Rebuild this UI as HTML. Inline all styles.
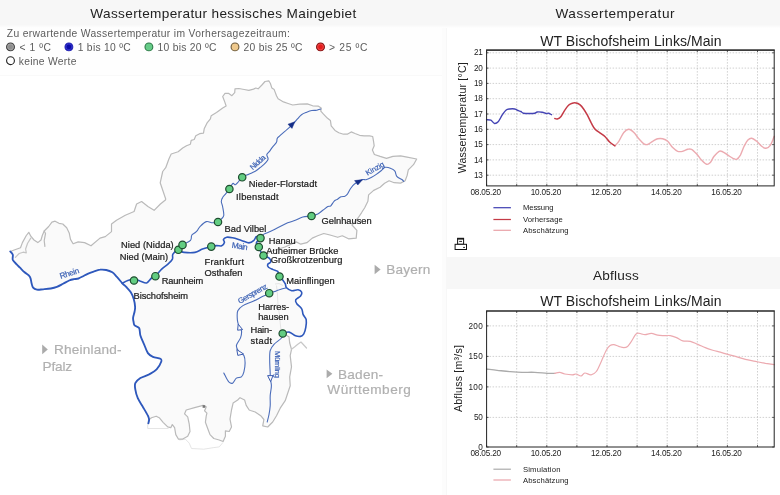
<!DOCTYPE html>
<html lang="de">
<head>
<meta charset="utf-8">
<title>Wassertemperatur hessisches Maingebiet</title>
<style>
html,body{margin:0;padding:0;background:#fff;}
body{width:780px;height:495px;overflow:hidden;position:relative;font-family:"Liberation Sans",sans-serif;}
#titlebar{position:absolute;left:0;top:0;width:780px;height:28px;background:linear-gradient(to bottom,#f7f7f7 0,#f7f7f7 24.5px,#fcfcfc 27px,#fff 28px);}
#legendbox{position:absolute;left:0;top:28px;width:442px;height:48px;background:#fefefe;border-bottom:1px solid #f9f9f9;box-sizing:border-box;}
#gutter{position:absolute;left:442px;top:28px;width:5px;height:467px;background:#fcfcfc;border-right:1px solid #f7f7f7;box-sizing:border-box;}
#abflussbar{position:absolute;left:447px;top:257px;width:333px;height:31.5px;background:#f7f7f7;}
svg{position:absolute;left:0;top:0;will-change:opacity;opacity:.999;}
text{font-family:"Liberation Sans",sans-serif;}
</style>
</head>
<body>
<div id="titlebar"></div>
<div id="legendbox"></div>
<div id="gutter"></div>
<div id="abflussbar"></div>
<svg width="780" height="495" viewBox="0 0 780 495">
  <!-- headings -->
  <g fill="#222" font-size="13.6">
    <text x="90.3" y="18.2" textLength="266">Wassertemperatur hessisches Maingebiet</text>
    <text x="555.5" y="18.2" textLength="119">Wassertemperatur</text>
    <text x="593.1" y="280.2" textLength="45.6">Abfluss</text>
  </g>
  <!-- legend -->
  <g fill="#5c5c5c" font-size="10.3">
    <text x="6.8" y="36.9" textLength="283">Zu erwartende Wassertemperatur im Vorhersagezeitraum:</text>
    <text x="19.5" y="50.7" textLength="31.5">&lt; 1 ºC</text>
    <text x="77.7" y="50.7" textLength="53">1 bis 10 ºC</text>
    <text x="157.5" y="50.7" textLength="59">10 bis 20 ºC</text>
    <text x="243.5" y="50.7" textLength="59">20 bis 25 ºC</text>
    <text x="329" y="50.7" textLength="38.5">&gt; 25 ºC</text>
    <text x="18.8" y="64.5" textLength="57.6">keine Werte</text>
  </g>
  <g stroke-width="1.1">
    <circle cx="10.5" cy="46.9" r="3.9" fill="#8e8e8e" stroke="#3c3c3c"/><circle cx="10.5" cy="46.9" r="2.9" fill="none" stroke="#b4b4b4" stroke-width="0.6"/>
    <circle cx="68.9" cy="46.9" r="3.9" fill="#0a0aa8" stroke="#2a2ab8"/><circle cx="68.9" cy="46.9" r="2.9" fill="none" stroke="#4a4ae0" stroke-width="0.6"/>
    <circle cx="148.9" cy="46.9" r="3.9" fill="#66cc88" stroke="#2f7a48"/>
    <circle cx="235" cy="46.9" r="3.9" fill="#efc98c" stroke="#6e5c3c"/>
    <circle cx="320.5" cy="46.9" r="3.9" fill="#e61c1c" stroke="#7c1212"/><circle cx="320.5" cy="46.9" r="2.9" fill="none" stroke="#f06a6a" stroke-width="0.6"/>
    <circle cx="10.5" cy="60.7" r="3.9" fill="#fff" stroke="#222"/>
  </g>

  <!-- MAP -->
  <path d="M10.3,251.5 L13.5,250.3 L20.5,247.7 L22.4,242.6 L26.3,235.5 L28.8,232.3 L30.8,236.2 L34.0,240.0 L37.8,242.6 L41.0,240.0 L42.3,235.5 L44.2,231.0 L48.7,226.5 L51.9,222.1 L55.1,221.2 L59.0,223.3 L62.8,224.0 L66.7,227.8 L69.2,232.9 L70.5,239.4 L73.1,243.8 L78.2,241.9 L84.6,242.6 L91.0,245.8 L100.0,238.1 L105.3,236.6 L111.5,231.6 L111.5,224.0 L116.5,220.3 L125.3,215.3 L134.1,211.5 L136.6,204.0 L141.6,201.5 L147.9,206.5 L154.1,210.3 L160.4,204.0 L165.4,200.0 L165.7,199.0 L160.2,182.8 L162.7,171.5 L165.7,167.7 L168.9,159.0 L171.2,154.0 L178.1,151.8 L182.7,148.0 L186.5,145.7 L190.4,144.2 L191.2,140.3 L194.2,139.5 L195.8,135.7 L199.6,133.7 L203.5,133.1 L204.2,128.8 L207.3,122.6 L210.4,118.8 L211.2,115.7 L216.5,112.6 L222.7,108.0 L226.1,106.0 L225.0,102.6 L222.7,96.5 L225.0,93.4 L228.8,93.4 L231.9,95.7 L234.7,92.6 L235.0,88.8 L238.8,88.5 L244.2,89.5 L248.8,90.3 L253.5,89.1 L255.8,88.0 L258.1,88.8 L261.9,85.0 L265.0,81.5 L268.8,80.8 L270.4,83.5 L271.9,88.1 L274.2,89.6 L276.5,95.8 L278.1,98.8 L283.5,101.9 L288.1,103.5 L292.7,105.0 L299.6,104.2 L307.3,103.9 L312.7,105.8 L318.1,106.1 L321.2,108.1 L320.8,111.2 L323.5,114.2 L327.3,118.1 L330.4,120.4 L331.2,125.8 L335.0,130.4 L338.8,132.7 L343.5,134.2 L347.3,134.2 L351.2,131.9 L355.0,133.5 L359.6,135.3 L364.2,135.8 L369.6,135.8 L372.7,136.5 L373.5,141.2 L374.2,145.8 L372.4,150.0 L374.4,154.5 L380.1,156.4 L386.5,158.3 L392.9,156.4 L400.6,155.8 L407.1,157.1 L416.7,159.0 L413.5,164.7 L408.3,169.9 L407.1,175.6 L405.1,180.8 L400.6,183.1 L394.2,182.7 L389.1,180.8 L384.6,183.3 L380.1,187.2 L373.7,190.4 L368.6,194.9 L367.9,201.3 L364.7,207.7 L361.5,212.8 L358.0,218.0 L352.0,225.0 L356.9,230.4 L356.2,238.1 L348.5,238.8 L342.3,235.8 L337.7,237.3 L330.0,235.0 L323.8,233.5 L317.7,235.8 L312.3,238.1 L306.9,242.7 L300.8,244.2 L296.2,241.9 L285.0,247.0 L272.0,251.0 L263.4,255.9 L269.2,258.1 L270.8,261.9 L267.7,264.4 L268.5,267.3 L273.1,269.6 L277.7,271.4 L279.7,276.7 L283.1,280.4 L285.3,283.8 L286.5,287.7 L291.7,290.7 L298.1,289.8 L301.7,292.2 L300.6,296.0 L295.7,299.9 L296.8,303.7 L301.7,308.8 L303.2,314.6 L306.2,319.7 L305.8,327.4 L303.8,333.8 L300.6,336.4 L295.5,335.8 L289.1,332.1 L282.7,333.5 L289.0,336.8 L289.7,343.0 L291.5,349.3 L290.2,355.6 L291.5,366.9 L289.7,376.9 L290.2,385.7 L287.7,393.2 L285.2,400.7 L280.2,408.2 L276.5,415.7 L272.7,422.0 L267.7,427.0 L262.7,425.8 L263.9,419.5 L260.7,415.7 L255.2,412.0 L250.5,410.5 L249.2,410.0 L246.2,405.4 L244.6,400.0 L240.0,397.7 L237.7,400.0 L233.1,403.1 L231.5,410.0 L230.0,419.2 L231.5,426.9 L229.2,431.5 L225.4,430.8 L225.4,436.2 L223.1,441.5 L219.2,440.0 L213.8,438.5 L210.0,434.6 L207.7,428.5 L205.4,422.3 L206.2,416.2 L206.9,413.1 L204.6,410.8 L206.2,406.9 L203.1,405.4 L194.6,407.7 L186.2,410.0 L184.6,413.8 L187.7,416.9 L189.2,423.8 L190.0,431.5 L187.7,436.2 L182.3,439.2 L178.5,439.2 L175.8,434.6 L174.6,427.7 L172.3,424.6 L170.8,427.7 L167.7,426.9 L163.1,422.3 L159.2,417.7 L156.2,416.2 L151.5,417.7 L148.5,420.0 L148.4,423.3 L149.1,419.5 L147.9,415.7 L142.9,407.0 L137.8,398.2 L135.3,389.4 L135.3,383.2 L140.4,378.1 L149.1,374.4 L156.6,369.4 L161.2,361.8 L160.4,358.8 L152.9,356.8 L147.9,353.1 L144.1,344.3 L140.4,335.5 L139.1,328.0 L134.6,325.4 L133.6,322.0 L133.1,317.7 L134.6,311.5 L135.1,306.9 L133.8,299.2 L130.8,292.3 L126.2,286.9 L122.3,283.3 L116.9,276.9 L112.3,272.3 L106.2,270.0 L100.0,269.7 L93.8,271.5 L87.7,273.8 L83.1,276.2 L78.5,278.5 L73.8,279.2 L69.2,280.5 L63.1,283.8 L56.9,286.9 L50.8,288.5 L43.1,289.3 L36.9,289.7 L33.1,287.7 L31.5,283.1 L30.0,276.9 L24.6,272.3 L20.0,267.7 L16.7,264.4 L12.8,259.9 L12.8,254.7 L10.3,251.5Z" fill="#fafafa" stroke="none"/>
  <g fill="none" stroke="#e2e2e2" stroke-width="0.9" stroke-linejoin="round">
    <path d="M147.7,423.0 L147.7,428.5 L168.5,428.5"/><path d="M179.2,440.0 L185.4,439.2 L189.2,443.1 L191.5,448.5 L203.8,449.2 L213.1,447.7 L219.2,446.9 L223.1,442.3"/><path d="M276.5,285.5 L277.5,295.0 L278.0,305.0 L279.5,315.0 L280.2,323.0 L281.0,330.0"/><path d="M275.0,284.0 L279.0,283.5 L283.0,285.5"/>
  </g>
  <g fill="none" stroke="#bababa" stroke-width="1.2" stroke-linejoin="round" stroke-linecap="round">
    <path d="M10.3,251.5 L13.5,250.3 L20.5,247.7 L22.4,242.6 L26.3,235.5 L28.8,232.3 L30.8,236.2 L34.0,240.0 L37.8,242.6 L41.0,240.0 L42.3,235.5 L44.2,231.0 L48.7,226.5 L51.9,222.1 L55.1,221.2 L59.0,223.3 L62.8,224.0 L66.7,227.8 L69.2,232.9 L70.5,239.4 L73.1,243.8 L78.2,241.9 L84.6,242.6 L91.0,245.8 L100.0,238.1 L105.3,236.6 L111.5,231.6 L111.5,224.0 L116.5,220.3 L125.3,215.3 L134.1,211.5 L136.6,204.0 L141.6,201.5 L147.9,206.5 L154.1,210.3 L160.4,204.0 L165.4,200.0 L165.7,199.0 L160.2,182.8 L162.7,171.5 L165.7,167.7 L168.9,159.0 L171.2,154.0 L178.1,151.8 L182.7,148.0 L186.5,145.7 L190.4,144.2 L191.2,140.3 L194.2,139.5 L195.8,135.7 L199.6,133.7 L203.5,133.1 L204.2,128.8 L207.3,122.6 L210.4,118.8 L211.2,115.7 L216.5,112.6 L222.7,108.0 L226.1,106.0 L225.0,102.6 L222.7,96.5 L225.0,93.4 L228.8,93.4 L231.9,95.7 L234.7,92.6 L235.0,88.8 L238.8,88.5 L244.2,89.5 L248.8,90.3 L253.5,89.1 L255.8,88.0 L258.1,88.8 L261.9,85.0 L265.0,81.5 L268.8,80.8 L270.4,83.5 L271.9,88.1 L274.2,89.6 L276.5,95.8 L278.1,98.8 L283.5,101.9 L288.1,103.5 L292.7,105.0 L299.6,104.2 L307.3,103.9 L312.7,105.8 L318.1,106.1 L321.2,108.1 L320.8,111.2 L323.5,114.2 L327.3,118.1 L330.4,120.4 L331.2,125.8 L335.0,130.4 L338.8,132.7 L343.5,134.2 L347.3,134.2 L351.2,131.9 L355.0,133.5 L359.6,135.3 L364.2,135.8 L369.6,135.8 L372.7,136.5 L373.5,141.2 L374.2,145.8 L372.4,150.0 L374.4,154.5 L380.1,156.4 L386.5,158.3 L392.9,156.4 L400.6,155.8 L407.1,157.1 L416.7,159.0 L413.5,164.7 L408.3,169.9 L407.1,175.6 L405.1,180.8 L400.6,183.1 L394.2,182.7 L389.1,180.8 L384.6,183.3 L380.1,187.2 L373.7,190.4 L368.6,194.9 L367.9,201.3 L364.7,207.7 L361.5,212.8 L358.0,218.0 L352.0,225.0 L356.9,230.4 L356.2,238.1 L348.5,238.8 L342.3,235.8 L337.7,237.3 L330.0,235.0 L323.8,233.5 L317.7,235.8 L312.3,238.1 L306.9,242.7 L300.8,244.2 L296.2,241.9 L285.0,247.0 L272.0,251.0 L263.4,255.9"/><path d="M282.7,333.5 L289.0,336.8 L289.7,343.0 L291.5,349.3 L290.2,355.6 L291.5,366.9 L289.7,376.9 L290.2,385.7 L287.7,393.2 L285.2,400.7 L280.2,408.2 L276.5,415.7 L272.7,422.0 L267.7,427.0 L262.7,425.8 L263.9,419.5 L260.7,415.7 L255.2,412.0 L250.5,410.5 L249.2,410.0 L246.2,405.4 L244.6,400.0 L240.0,397.7 L237.7,400.0 L233.1,403.1 L231.5,410.0 L230.0,419.2 L231.5,426.9 L229.2,431.5 L225.4,430.8 L225.4,436.2 L223.1,441.5 L219.2,440.0 L213.8,438.5 L210.0,434.6 L207.7,428.5 L205.4,422.3 L206.2,416.2 L206.9,413.1 L204.6,410.8 L206.2,406.9 L203.1,405.4 L194.6,407.7 L186.2,410.0 L184.6,413.8 L187.7,416.9 L189.2,423.8 L190.0,431.5 L187.7,436.2 L182.3,439.2 L178.5,439.2 L175.8,434.6 L174.6,427.7 L172.3,424.6 L170.8,427.7 L167.7,426.9 L163.1,422.3 L159.2,417.7 L156.2,416.2 L151.5,417.7 L148.5,420.0 L148.4,423.3"/>
    <path d="M44.2,231.0 L45.5,233.6 L44.2,240.6 L44.9,246.4"/><path d="M30.8,238.1 L27.6,243.2 L25.6,249.0 L26.3,252.8 L23.1,252.2 L19.2,253.5 L15.4,257.3" stroke="#c4c4c4"/><path d="M291.5,349.3 L294.5,347.0 L297.8,344.3 L301.0,342.0 L306.5,348.0" stroke="#c8c8c8"/>
  </g>
  <rect x="202.6" y="405.2" width="2.6" height="2.6" fill="#777"/>
  <g fill="none" stroke="#4a6cba" stroke-width="1.1" stroke-linejoin="round" stroke-linecap="round">
    <path d="M320.8,109.0 C320.1,109.2 318.4,110.0 316.9,110.3 C315.4,110.5 313.5,110.2 311.8,110.5 C310.1,110.8 308.4,111.5 306.7,112.2 C305.0,112.9 303.0,113.6 301.5,114.7 C300.0,115.8 298.9,117.3 297.7,118.6 C296.5,119.9 295.8,121.0 294.5,122.4 C293.2,123.8 291.6,125.4 290.0,126.9 C288.4,128.4 286.6,129.9 284.9,131.4 C283.2,132.9 281.0,134.7 279.7,135.9 C278.4,137.1 277.7,137.4 277.2,138.5 C276.7,139.6 277.2,140.9 276.5,142.3 C275.8,143.7 273.9,145.3 272.7,146.8 C271.5,148.3 270.5,150.0 269.5,151.3 C268.5,152.6 267.0,153.3 266.8,154.6 C266.6,155.9 268.3,157.7 268.1,159.1 C267.9,160.5 266.8,161.5 265.5,162.9 C264.2,164.3 262.1,166.0 260.4,167.4 C258.7,168.8 257.2,170.2 255.3,171.3 C253.4,172.4 251.0,173.2 248.8,174.2 C246.6,175.2 243.9,176.1 242.2,177.3 C240.5,178.5 239.7,180.3 238.6,181.5 C237.5,182.7 236.4,184.4 235.4,184.7 C234.4,185.0 233.8,182.8 232.8,183.5 C231.8,184.2 230.6,187.3 229.4,189.0 C228.2,190.7 226.9,192.3 225.8,193.7 C224.7,195.1 223.3,196.3 222.6,197.6 C221.8,198.9 221.3,199.9 221.3,201.4 C221.3,202.9 222.2,204.2 222.6,206.5 C223.0,208.8 224.0,213.2 223.8,215.3 C223.6,217.4 222.3,217.9 221.3,219.0 C220.3,220.1 219.5,221.4 218.0,222.0 C216.5,222.6 214.4,222.9 212.5,222.8 C210.6,222.7 208.4,221.0 206.3,221.6 C204.2,222.2 201.5,225.1 200.0,226.6 C198.5,228.1 198.3,229.3 197.5,230.3 C196.7,231.3 196.0,232.0 195.0,232.8 C194.0,233.6 192.4,234.0 191.7,235.3 C190.9,236.6 192.0,238.8 190.5,240.4 C189.0,242.0 184.5,243.4 182.5,244.9 C180.5,246.4 179.1,248.8 178.4,249.6"/><path d="M403.8,181.4 C403.5,181.1 403.1,180.3 401.9,179.5 C400.7,178.7 398.0,177.7 396.8,176.3 C395.6,174.9 395.9,172.5 394.9,171.2 C393.9,169.9 392.6,169.2 391.0,168.6 C389.4,167.9 386.9,167.0 385.3,167.3 C383.7,167.6 382.9,169.3 381.4,170.5 C379.9,171.7 378.0,173.2 376.3,174.4 C374.6,175.6 372.9,176.7 371.2,177.6 C369.5,178.5 367.5,179.3 366.0,179.7 C364.5,180.0 364.1,179.0 362.2,179.7 C360.3,180.4 356.4,182.5 354.5,184.0 C352.6,185.5 351.8,186.8 350.6,188.5 C349.4,190.2 348.3,192.9 347.4,194.2 C346.4,195.5 346.0,195.8 344.9,196.2 C343.8,196.6 342.3,196.3 341.0,196.8 C339.7,197.3 338.4,198.7 337.2,199.4 C336.0,200.2 335.1,200.2 334.0,201.3 C332.9,202.4 331.8,204.9 330.8,205.8 C329.8,206.7 329.1,205.8 327.8,206.5 C326.5,207.2 324.5,209.1 322.8,210.3 C321.1,211.6 319.7,213.1 317.8,214.0 C315.9,214.9 314.0,215.5 311.5,216.0 C309.0,216.5 305.5,216.3 302.8,217.0 C300.1,217.7 297.8,219.3 295.3,220.3 C292.8,221.3 290.6,221.6 287.7,222.8 C284.8,224.1 280.6,226.3 277.7,227.8 C274.8,229.3 272.5,230.6 270.2,231.6 C267.9,232.6 265.6,233.1 263.9,234.1 C262.2,235.1 260.8,237.2 260.2,237.8"/><path d="M285.8,288.0 C284.9,288.2 281.8,288.9 280.2,289.4 C278.6,289.9 278.1,290.2 276.3,290.9 C274.5,291.6 271.3,292.6 269.2,293.5 C267.1,294.4 266.2,294.7 263.5,296.0 C260.8,297.3 256.6,299.6 253.2,301.2 C249.8,302.8 245.5,304.0 242.9,305.6 C240.3,307.2 238.8,308.9 237.8,310.8 C236.9,312.7 237.2,315.3 237.2,317.2 C237.2,319.1 237.5,320.8 237.8,322.3 C238.1,323.8 238.5,324.8 239.1,326.2 C239.7,327.6 241.2,328.9 241.5,330.8 C241.8,332.7 241.4,335.2 240.6,337.7 C239.8,340.2 236.7,343.2 236.4,345.6 C236.1,348.0 237.7,350.1 238.9,351.8 C240.2,353.5 242.9,353.7 243.9,355.6 C244.9,357.5 245.1,360.4 245.1,363.1 C245.1,365.8 244.5,369.6 243.9,371.9 C243.3,374.2 242.7,375.9 241.4,376.9 C240.2,377.9 237.9,377.1 236.4,378.1 C234.9,379.2 233.9,382.6 232.6,383.2 C231.3,383.8 230.1,383.2 228.8,381.9 C227.6,380.6 225.9,377.1 225.1,375.6 C224.3,374.1 224.0,373.5 223.8,373.1"/><path d="M282.7,333.5 C282.5,334.2 282.9,336.2 281.5,338.0 C280.1,339.8 275.9,342.2 274.0,344.3 C272.1,346.4 270.9,347.9 270.2,350.6 C269.5,353.3 269.7,356.9 269.7,360.6 C269.7,364.4 270.1,370.2 270.2,373.1 C270.3,376.0 270.0,376.0 270.2,378.1 C270.4,380.2 271.4,382.8 271.4,385.7 C271.4,388.6 270.4,392.4 270.2,395.7 C270.0,399.0 270.4,402.6 270.2,405.7 C270.0,408.8 269.5,411.8 269.0,414.5 C268.5,417.2 267.5,420.8 267.2,422.0"/>
  </g>
  <g fill="none" stroke="#2e58bc" stroke-width="1.6" stroke-linejoin="round" stroke-linecap="round">
    <path d="M10.3,251.5 C10.7,252.0 12.4,253.3 12.8,254.7 C13.2,256.1 12.2,258.3 12.8,259.9 C13.5,261.5 15.5,263.1 16.7,264.4 C17.9,265.7 18.7,266.4 20.0,267.7 C21.3,269.0 22.9,270.8 24.6,272.3 C26.3,273.8 28.9,275.1 30.0,276.9 C31.1,278.7 31.0,281.3 31.5,283.1 C32.0,284.9 32.2,286.6 33.1,287.7 C34.0,288.8 35.2,289.4 36.9,289.7 C38.6,290.0 40.8,289.5 43.1,289.3 C45.4,289.1 48.5,288.9 50.8,288.5 C53.1,288.1 54.8,287.7 56.9,286.9 C59.0,286.1 61.0,284.9 63.1,283.8 C65.2,282.7 67.4,281.3 69.2,280.5 C71.0,279.7 72.2,279.5 73.8,279.2 C75.3,278.9 77.0,279.0 78.5,278.5 C80.0,278.0 81.6,277.0 83.1,276.2 C84.6,275.4 85.9,274.6 87.7,273.8 C89.5,273.0 91.8,272.2 93.8,271.5 C95.8,270.8 97.9,269.9 100.0,269.7 C102.1,269.4 104.2,269.6 106.2,270.0 C108.2,270.4 110.5,271.2 112.3,272.3 C114.1,273.4 115.2,275.1 116.9,276.9 C118.6,278.7 120.8,281.6 122.3,283.3 C123.8,285.0 124.8,285.4 126.2,286.9 C127.6,288.4 129.5,290.2 130.8,292.3 C132.1,294.4 133.1,296.8 133.8,299.2 C134.5,301.6 135.0,304.8 135.1,306.9 C135.2,308.9 134.9,309.7 134.6,311.5 C134.3,313.3 133.3,315.9 133.1,317.7 C132.9,319.4 133.3,320.7 133.6,322.0 C133.8,323.3 133.7,324.4 134.6,325.4 C135.5,326.4 138.1,326.3 139.1,328.0 C140.1,329.7 139.6,332.8 140.4,335.5 C141.2,338.2 142.8,341.4 144.1,344.3 C145.3,347.2 146.4,351.0 147.9,353.1 C149.4,355.2 150.8,355.9 152.9,356.8 C155.0,357.8 159.0,358.0 160.4,358.8 C161.8,359.6 161.8,360.0 161.2,361.8 C160.6,363.6 158.6,367.3 156.6,369.4 C154.6,371.5 151.8,372.9 149.1,374.4 C146.4,375.8 142.7,376.6 140.4,378.1 C138.1,379.6 136.2,381.3 135.3,383.2 C134.5,385.1 134.9,386.9 135.3,389.4 C135.7,391.9 136.5,395.3 137.8,398.2 C139.1,401.1 141.2,404.1 142.9,407.0 C144.6,409.9 146.9,413.6 147.9,415.7 C148.9,417.8 149.0,418.2 149.1,419.5 C149.2,420.8 148.5,422.7 148.4,423.3" stroke-width="1.85"/><path d="M122.3,283.3 C123.2,282.8 125.8,281.2 127.8,280.5 C129.8,279.8 132.0,279.1 134.1,279.2 C136.2,279.3 138.3,280.6 140.4,281.2 C142.5,281.8 144.7,283.5 146.6,283.0 C148.5,282.5 150.1,279.1 151.6,278.0 C153.1,276.9 153.7,277.7 155.4,276.2 C157.1,274.7 159.6,271.2 161.7,269.2 C163.8,267.2 166.1,265.9 167.9,264.2 C169.7,262.5 171.6,260.9 172.4,259.2 C173.2,257.5 172.0,255.6 172.9,254.1 C173.8,252.6 176.0,250.7 177.9,250.4 C179.8,250.1 181.3,252.1 184.2,252.4 C187.0,252.7 191.9,253.0 195.0,252.4 C198.1,251.8 199.8,250.1 202.5,249.1 C205.2,248.1 208.9,247.2 211.3,246.6 C213.7,246.0 215.0,245.7 216.7,245.6 C218.4,245.5 220.4,246.3 221.7,245.8 C223.0,245.3 224.1,243.6 224.4,242.5 C224.7,241.4 223.1,240.3 223.5,239.4 C223.9,238.5 225.2,237.5 226.7,237.2 C228.2,236.9 230.1,237.3 232.6,237.8 C235.1,238.3 238.7,239.6 241.4,240.4 C244.1,241.2 246.8,242.9 248.9,242.9 C251.0,242.9 252.7,241.5 253.9,240.4 C255.2,239.3 255.3,237.0 256.4,236.6 C257.4,236.2 260.2,236.8 260.2,237.8 C260.2,238.9 256.7,241.4 256.4,242.9 C256.1,244.4 257.4,244.9 258.2,246.6 C259.0,248.3 260.5,251.3 261.4,252.9 C262.3,254.5 263.1,255.4 263.4,255.9"/><path d="M263.4,255.9 C264.4,256.3 268.0,257.1 269.2,258.1 C270.4,259.1 271.1,260.8 270.8,261.9 C270.6,262.9 268.1,263.5 267.7,264.4 C267.3,265.3 267.6,266.4 268.5,267.3 C269.4,268.2 271.6,268.9 273.1,269.6 C274.6,270.3 276.6,270.2 277.7,271.4 C278.8,272.6 278.8,275.2 279.7,276.7 C280.6,278.2 282.2,279.2 283.1,280.4 C284.0,281.6 284.7,282.6 285.3,283.8 C285.9,285.0 285.4,286.6 286.5,287.7 C287.6,288.8 289.8,290.3 291.7,290.7 C293.6,291.1 296.4,289.6 298.1,289.8 C299.8,290.1 301.3,291.2 301.7,292.2 C302.1,293.2 301.6,294.7 300.6,296.0 C299.6,297.3 296.3,298.6 295.7,299.9 C295.1,301.2 295.8,302.2 296.8,303.7 C297.8,305.2 300.6,307.0 301.7,308.8 C302.8,310.6 302.4,312.8 303.2,314.6 C303.9,316.4 305.8,317.6 306.2,319.7 C306.6,321.8 306.2,325.0 305.8,327.4 C305.4,329.8 304.7,332.3 303.8,333.8 C302.9,335.3 302.0,336.1 300.6,336.4 C299.2,336.7 297.4,336.5 295.5,335.8 C293.6,335.1 291.2,332.5 289.1,332.1 C287.0,331.7 283.8,333.3 282.7,333.5"/>
  </g>
  <!-- flow arrows -->
  <g fill="#152e88" stroke="#152e88" stroke-width="0.5" stroke-linejoin="round">
    <path d="M294.8,121.8 L288,124.2 L292,128.4Z"/>
    <path d="M362.6,179.6 L354.6,180.6 L357.8,185Z"/>
  </g>
  <g fill="#fafafa" stroke="#3c5cb0" stroke-width="1">
    <path d="M238.2,324.2 L242.6,329.6 L237.6,330.2Z"/>
    <path d="M236.8,349.6 L243.6,354 L237.8,355.4Z"/>
    <path d="M267.6,375.6 L273,375.6 L270.6,381.6Z"/>
  </g>
  <g fill="#3a60b4" stroke="#3a60b4" stroke-width="0.2"><text transform="translate(69.5,273.5) rotate(-18)" font-size="8.2" text-anchor="middle" textLength="20" y="2.5">Rhein</text><text transform="translate(239.8,246.5) rotate(8)" font-size="8.2" text-anchor="middle" textLength="16" y="2.5">Main</text><text transform="translate(257.8,162.3) rotate(-42)" font-size="7.6" text-anchor="middle" textLength="18" y="2.5">Nidda</text><text transform="translate(375,168.6) rotate(-30)" font-size="7.6" text-anchor="middle" textLength="20" y="2.5">Kinzig</text><text transform="translate(252.6,293.8) rotate(-29.5)" font-size="7.8" text-anchor="middle" textLength="32.5" y="2.5">Gersprenz</text><text transform="translate(277.2,364.4) rotate(90)" font-size="7.6" text-anchor="middle" textLength="27" y="2.5">Mümling</text></g>
  <g fill="#62cd82" stroke="#1f4d30" stroke-width="1.2"><circle cx="134" cy="280.5" r="3.7"/><circle cx="155.4" cy="276.2" r="3.7"/><circle cx="178.4" cy="249.8" r="3.7"/><circle cx="182.5" cy="244.9" r="3.7"/><circle cx="211.3" cy="246.6" r="3.7"/><circle cx="218" cy="222" r="3.7"/><circle cx="229.4" cy="189" r="3.7"/><circle cx="242.2" cy="177.3" r="3.7"/><circle cx="311.5" cy="216" r="3.7"/><circle cx="260.5" cy="238.1" r="3.7"/><circle cx="258.8" cy="247" r="3.7"/><circle cx="263.5" cy="255.5" r="3.7"/><circle cx="279.5" cy="276.5" r="3.7"/><circle cx="269.2" cy="293.2" r="3.7"/><circle cx="282.7" cy="333.5" r="3.7"/></g>
  <g fill="#1c1c1c" stroke="#1c1c1c" stroke-width="0.22" font-size="9.3"><text x="248.8" y="187" textLength="68.2">Nieder-Florstadt</text><text x="236" y="200.4" textLength="42.6">Ilbenstadt</text><text x="224.6" y="231.6" textLength="41.7">Bad Vilbel</text><text x="321.6" y="224" textLength="50">Gelnhausen</text><text x="268.8" y="244.4" textLength="26.9">Hanau</text><text x="266.2" y="254.2" textLength="72.3">Auheimer Brücke</text><text x="270.8" y="262.9" textLength="71.5">Großkrotzenburg</text><text x="286.2" y="283.6" textLength="48.4">Mainflingen</text><text x="121" y="248" textLength="52.7">Nied (Nidda)</text><text x="119.8" y="260.4" textLength="48.2">Nied (Main)</text><text x="161.7" y="284.2" textLength="41.5">Raunheim</text><text x="133.6" y="298.5" textLength="54.4">Bischofsheim</text><text x="204.5" y="265.4" textLength="39.5">Frankfurt</text><text x="204.5" y="276" textLength="38">Osthafen</text><text x="258.2" y="310" textLength="31">Harres-</text><text x="258.2" y="320" textLength="30.5">hausen</text><text x="250.6" y="333" textLength="21.5">Hain-</text><text x="250.6" y="343.5" textLength="21.5">stadt</text></g>
  <!-- neighbouring states -->
  <g fill="#b0b0b0" stroke="#b0b0b0" stroke-width="0.2" font-size="13.6">
    <text x="386.3" y="274.2" textLength="43.9">Bayern</text>
    <text x="53.9" y="354.3" textLength="67.7">Rheinland-</text>
    <text x="42.6" y="370.6" textLength="29.5">Pfalz</text>
    <text x="337.9" y="378.6" textLength="45.2">Baden-</text>
    <text x="327.3" y="394.4" textLength="83.5">Württemberg</text>
  </g>
  <g fill="#ababab">
    <path d="M374.6,264.8 L380.6,269.5 L374.6,274.2Z"/>
    <path d="M42.2,344.6 L47.8,349.4 L42.2,354.2Z"/>
    <path d="M326.6,369.4 L332.4,373.8 L326.6,378.2Z"/>
  </g>

  <!-- CHART 1 -->
  <rect x="486.6" y="50.1" width="287.6" height="135.8" fill="#fff"/>
  <g stroke="#b0b0b0" stroke-width="0.6" stroke-dasharray="1.5 1.5" fill="none"><line x1="516.7" y1="50.1" x2="516.7" y2="185.9"/><line x1="546.8" y1="50.1" x2="546.8" y2="185.9"/><line x1="576.9" y1="50.1" x2="576.9" y2="185.9"/><line x1="607.0" y1="50.1" x2="607.0" y2="185.9"/><line x1="637.1" y1="50.1" x2="637.1" y2="185.9"/><line x1="667.2" y1="50.1" x2="667.2" y2="185.9"/><line x1="697.3" y1="50.1" x2="697.3" y2="185.9"/><line x1="727.4" y1="50.1" x2="727.4" y2="185.9"/><line x1="757.5" y1="50.1" x2="757.5" y2="185.9"/><line x1="486.6" y1="52.8" x2="774.2" y2="52.8"/><line x1="486.6" y1="68.1" x2="774.2" y2="68.1"/><line x1="486.6" y1="83.4" x2="774.2" y2="83.4"/><line x1="486.6" y1="98.7" x2="774.2" y2="98.7"/><line x1="486.6" y1="114.0" x2="774.2" y2="114.0"/><line x1="486.6" y1="129.3" x2="774.2" y2="129.3"/><line x1="486.6" y1="144.6" x2="774.2" y2="144.6"/><line x1="486.6" y1="159.9" x2="774.2" y2="159.9"/><line x1="486.6" y1="175.2" x2="774.2" y2="175.2"/></g>
  <g fill="none" stroke-linejoin="round" stroke-linecap="round">
    <path d="M614.9,145.8 C615.5,145.1 617.3,143.5 618.8,141.3 C620.3,139.1 622.1,134.5 623.8,132.5 C625.5,130.5 627.2,129.3 628.9,129.3 C630.6,129.3 632.2,130.9 633.9,132.5 C635.6,134.1 637.2,136.9 638.9,138.8 C640.6,140.7 642.4,142.9 643.9,143.8 C645.4,144.8 646.2,144.9 647.7,144.5 C649.2,144.1 651.0,142.2 652.7,141.3 C654.4,140.4 656.0,139.2 657.7,138.8 C659.4,138.4 661.0,138.4 662.7,138.8 C664.4,139.2 666.0,139.8 667.7,141.3 C669.4,142.8 671.0,145.9 672.7,147.6 C674.4,149.3 676.0,150.7 677.7,151.3 C679.4,151.9 681.0,151.6 682.7,151.3 C684.4,151.0 686.3,149.6 687.8,149.3 C689.3,149.0 690.0,148.6 691.5,149.3 C693.0,150.1 694.8,152.0 696.5,153.8 C698.2,155.6 699.8,158.3 701.5,160.1 C703.2,161.8 705.1,163.9 706.6,164.3 C708.1,164.7 709.0,163.9 710.3,162.6 C711.5,161.3 712.6,158.2 714.1,156.3 C715.6,154.4 717.7,152.1 719.1,151.3 C720.5,150.6 721.3,151.2 722.8,151.8 C724.3,152.4 726.2,154.0 727.9,155.1 C729.6,156.2 731.4,157.6 732.9,158.3 C734.4,159.0 735.4,159.8 736.6,159.3 C737.9,158.8 739.1,157.3 740.4,155.1 C741.6,152.9 742.9,148.8 744.1,146.3 C745.4,143.8 746.6,141.3 747.9,140.0 C749.2,138.7 750.2,138.1 751.7,138.3 C753.2,138.5 755.0,140.0 756.7,141.3 C758.4,142.6 760.2,145.1 761.7,146.3 C763.2,147.5 764.5,148.5 766.0,148.3 C767.5,148.1 769.1,147.1 770.5,145.1 C771.9,143.1 773.6,137.8 774.2,136.3" stroke="#ecaab0" stroke-width="1.4"/>
    <path d="M554.8,118.5 C555.2,118.6 556.3,119.3 557.3,119.0 C558.3,118.7 559.8,118.0 561.0,116.5 C562.2,115.0 563.5,112.1 564.8,110.2 C566.0,108.3 567.2,106.4 568.5,105.2 C569.8,104.0 571.0,103.6 572.3,103.2 C573.6,102.8 574.9,102.8 576.1,103.0 C577.4,103.2 578.5,103.7 579.8,104.7 C581.0,105.7 582.3,107.2 583.6,109.0 C584.9,110.8 586.1,112.9 587.4,115.2 C588.6,117.5 589.9,120.4 591.1,122.7 C592.4,125.0 593.4,127.3 594.9,129.0 C596.4,130.7 598.2,131.6 599.9,132.8 C601.6,134.1 603.2,134.9 604.9,136.5 C606.6,138.1 608.2,140.8 609.9,142.3 C611.6,143.9 614.1,145.2 614.9,145.8" stroke="#c43a46" stroke-width="1.5"/>
    <path d="M486.6,119.7 C487.3,119.8 489.6,119.6 490.9,120.2 C492.2,120.8 493.4,123.3 494.6,123.5 C495.9,123.7 497.1,122.9 498.4,121.5 C499.6,120.1 500.9,117.1 502.1,115.2 C503.4,113.3 504.6,111.2 505.9,110.2 C507.2,109.2 508.2,109.2 509.7,109.0 C511.2,108.8 513.2,108.7 514.7,109.0 C516.2,109.3 517.4,110.3 518.4,110.7 C519.4,111.1 520.1,111.1 520.9,111.5 C521.7,111.9 521.9,112.9 523.4,113.2 C524.9,113.5 527.8,113.5 529.7,113.5 C531.6,113.5 533.5,113.5 534.7,113.2 C536.0,113.0 536.0,112.2 537.2,112.0 C538.5,111.8 540.7,112.0 542.2,112.2 C543.7,112.5 545.0,113.3 546.0,113.5 C547.0,113.7 547.6,113.0 548.5,113.2 C549.4,113.4 551.0,114.5 551.5,114.7" stroke="#4444b4" stroke-width="1.4"/>
  </g>
  <g stroke="#222" stroke-width="0.7"><line x1="486.6" y1="185.9" x2="486.6" y2="183.9"/><line x1="486.6" y1="50.1" x2="486.6" y2="52.1"/><line x1="516.7" y1="185.9" x2="516.7" y2="183.9"/><line x1="516.7" y1="50.1" x2="516.7" y2="52.1"/><line x1="546.8" y1="185.9" x2="546.8" y2="183.9"/><line x1="546.8" y1="50.1" x2="546.8" y2="52.1"/><line x1="576.9" y1="185.9" x2="576.9" y2="183.9"/><line x1="576.9" y1="50.1" x2="576.9" y2="52.1"/><line x1="607.0" y1="185.9" x2="607.0" y2="183.9"/><line x1="607.0" y1="50.1" x2="607.0" y2="52.1"/><line x1="637.1" y1="185.9" x2="637.1" y2="183.9"/><line x1="637.1" y1="50.1" x2="637.1" y2="52.1"/><line x1="667.2" y1="185.9" x2="667.2" y2="183.9"/><line x1="667.2" y1="50.1" x2="667.2" y2="52.1"/><line x1="697.3" y1="185.9" x2="697.3" y2="183.9"/><line x1="697.3" y1="50.1" x2="697.3" y2="52.1"/><line x1="727.4" y1="185.9" x2="727.4" y2="183.9"/><line x1="727.4" y1="50.1" x2="727.4" y2="52.1"/><line x1="757.5" y1="185.9" x2="757.5" y2="183.9"/><line x1="757.5" y1="50.1" x2="757.5" y2="52.1"/><line x1="486.6" y1="52.8" x2="488.6" y2="52.8"/><line x1="774.2" y1="52.8" x2="772.2" y2="52.8"/><line x1="486.6" y1="68.1" x2="488.6" y2="68.1"/><line x1="774.2" y1="68.1" x2="772.2" y2="68.1"/><line x1="486.6" y1="83.4" x2="488.6" y2="83.4"/><line x1="774.2" y1="83.4" x2="772.2" y2="83.4"/><line x1="486.6" y1="98.7" x2="488.6" y2="98.7"/><line x1="774.2" y1="98.7" x2="772.2" y2="98.7"/><line x1="486.6" y1="114.0" x2="488.6" y2="114.0"/><line x1="774.2" y1="114.0" x2="772.2" y2="114.0"/><line x1="486.6" y1="129.3" x2="488.6" y2="129.3"/><line x1="774.2" y1="129.3" x2="772.2" y2="129.3"/><line x1="486.6" y1="144.6" x2="488.6" y2="144.6"/><line x1="774.2" y1="144.6" x2="772.2" y2="144.6"/><line x1="486.6" y1="159.9" x2="488.6" y2="159.9"/><line x1="774.2" y1="159.9" x2="772.2" y2="159.9"/><line x1="486.6" y1="175.2" x2="488.6" y2="175.2"/><line x1="774.2" y1="175.2" x2="772.2" y2="175.2"/></g>
  <rect x="486.6" y="50.1" width="287.6" height="135.8" fill="none" stroke="#222" stroke-width="1"/>
  <line x1="486.1" y1="50.1" x2="774.7" y2="50.1" stroke="#2a2a2a" stroke-width="1.1"/>
  <g fill="#222" font-size="8.2"><text x="485.8" y="195" text-anchor="middle" textLength="30.6">08.05.20</text><text x="546.0" y="195" text-anchor="middle" textLength="30.6">10.05.20</text><text x="606.2" y="195" text-anchor="middle" textLength="30.6">12.05.20</text><text x="666.4" y="195" text-anchor="middle" textLength="30.6">14.05.20</text><text x="726.6" y="195" text-anchor="middle" textLength="30.6">16.05.20</text><text x="482.8" y="55.4" text-anchor="end" textLength="8.8">21</text><text x="482.8" y="70.7" text-anchor="end" textLength="8.8">20</text><text x="482.8" y="86.0" text-anchor="end" textLength="8.8">19</text><text x="482.8" y="101.3" text-anchor="end" textLength="8.8">18</text><text x="482.8" y="116.6" text-anchor="end" textLength="8.8">17</text><text x="482.8" y="131.9" text-anchor="end" textLength="8.8">16</text><text x="482.8" y="147.2" text-anchor="end" textLength="8.8">15</text><text x="482.8" y="162.5" text-anchor="end" textLength="8.8">14</text><text x="482.8" y="177.8" text-anchor="end" textLength="8.8">13</text></g>
  <text x="540.2" y="45.6" font-size="14" fill="#222" textLength="181.4">WT Bischofsheim Links/Main</text>
  <text transform="translate(466.4,117.8) rotate(-90)" text-anchor="middle" font-size="10.6" fill="#222" textLength="111">Wassertemperatur [°C]</text>
  <g stroke-width="1.25" fill="none">
    <line x1="493.4" y1="207.7" x2="510.9" y2="207.7" stroke="#4444b4"/>
    <line x1="493.4" y1="219.5" x2="510.9" y2="219.5" stroke="#c43a46"/>
    <line x1="493.4" y1="230.3" x2="510.9" y2="230.3" stroke="#eaa4aa"/>
  </g>
  <g fill="#222" font-size="7.7">
    <text x="522.9" y="210.4" textLength="30.6">Messung</text>
    <text x="522.9" y="222.2" textLength="39.9">Vorhersage</text>
    <text x="522.9" y="233" textLength="45.7">Abschätzung</text>
  </g>
  <!-- print icon -->
  <g fill="#fff" stroke="#111" stroke-width="1">
    <rect x="457.6" y="238.3" width="6" height="6"/>
    <rect x="455.1" y="244.3" width="11.4" height="5.2"/>
  </g>
  <g stroke="#111" fill="none">
    <line x1="457.6" y1="238.9" x2="463.6" y2="238.9" stroke-width="1.4"/>
    <line x1="459.2" y1="241.4" x2="462" y2="241.4" stroke-width="0.9"/>
    <line x1="463.1" y1="247.4" x2="465" y2="247.4" stroke-width="0.9"/>
  </g>

  <!-- CHART 2 -->
  <rect x="486.6" y="311" width="287.6" height="136" fill="#fff"/>
  <g stroke="#b0b0b0" stroke-width="0.6" stroke-dasharray="1.5 1.5" fill="none"><line x1="516.7" y1="311.0" x2="516.7" y2="447.0"/><line x1="546.8" y1="311.0" x2="546.8" y2="447.0"/><line x1="576.9" y1="311.0" x2="576.9" y2="447.0"/><line x1="607.0" y1="311.0" x2="607.0" y2="447.0"/><line x1="637.1" y1="311.0" x2="637.1" y2="447.0"/><line x1="667.2" y1="311.0" x2="667.2" y2="447.0"/><line x1="697.3" y1="311.0" x2="697.3" y2="447.0"/><line x1="727.4" y1="311.0" x2="727.4" y2="447.0"/><line x1="757.5" y1="311.0" x2="757.5" y2="447.0"/><line x1="486.6" y1="325.9" x2="774.2" y2="325.9"/><line x1="486.6" y1="356.4" x2="774.2" y2="356.4"/><line x1="486.6" y1="386.9" x2="774.2" y2="386.9"/><line x1="486.6" y1="417.4" x2="774.2" y2="417.4"/></g>
  <g fill="none" stroke-linejoin="round" stroke-linecap="round">
    <path d="M486.6,369.0 C488.4,369.2 493.2,369.9 497.1,370.3 C501.0,370.7 505.5,371.3 509.7,371.6 C513.9,371.9 518.0,372.2 522.2,372.3 C526.4,372.4 530.5,372.1 534.7,372.3 C538.9,372.5 543.9,373.1 547.2,373.3 C550.6,373.5 553.5,373.3 554.8,373.3" stroke="#ababab" stroke-width="1.3"/>
    <path d="M554.8,373.3 C555.6,373.1 558.1,372.2 559.8,372.3 C561.5,372.4 562.7,373.6 564.8,374.0 C566.9,374.4 570.4,374.8 572.3,374.8 C574.2,374.8 574.6,373.8 576.1,374.0 C577.6,374.2 579.7,376.2 581.1,376.0 C582.5,375.8 583.1,373.2 584.8,373.0 C586.5,372.8 589.2,375.1 591.1,374.8 C593.0,374.6 594.6,373.7 596.3,371.5 C598.0,369.3 599.6,364.9 601.3,361.4 C603.0,357.8 604.8,352.8 606.3,350.2 C607.8,347.6 608.9,346.5 610.1,345.6 C611.4,344.7 612.3,344.5 613.8,344.6 C615.2,344.7 617.1,345.9 618.8,346.4 C620.5,346.9 622.3,347.6 623.8,347.6 C625.3,347.6 626.3,347.4 627.6,346.4 C628.9,345.4 630.1,343.3 631.4,341.4 C632.6,339.5 634.1,336.5 635.1,335.1 C636.1,333.7 636.6,333.3 637.6,333.1 C638.6,332.9 640.1,333.6 641.4,333.9 C642.7,334.1 643.5,334.7 645.2,334.6 C646.9,334.5 649.3,333.3 651.4,333.4 C653.5,333.5 655.6,334.7 657.7,335.1 C659.8,335.5 661.8,335.5 663.9,335.6 C666.0,335.7 668.1,335.3 670.2,335.6 C672.3,335.9 674.4,336.7 676.5,337.6 C678.6,338.5 680.4,340.3 682.7,340.9 C685.0,341.5 687.8,340.8 690.3,341.4 C692.8,342.0 695.3,343.4 697.8,344.4 C700.3,345.4 702.8,346.6 705.3,347.6 C707.8,348.6 710.3,349.4 712.8,350.2 C715.3,351.0 717.8,351.5 720.3,352.2 C722.8,352.9 725.4,353.7 727.9,354.4 C730.4,355.1 732.5,355.6 735.4,356.4 C738.3,357.2 742.1,358.6 745.4,359.4 C748.7,360.2 752.0,360.7 755.4,361.4 C758.8,362.1 762.4,362.8 765.5,363.4 C768.6,363.9 772.8,364.5 774.2,364.7" stroke="#ecaab0" stroke-width="1.2"/>
  </g>
  <g stroke="#222" stroke-width="0.7"><line x1="486.6" y1="447.0" x2="486.6" y2="445.0"/><line x1="486.6" y1="311.0" x2="486.6" y2="313.0"/><line x1="516.7" y1="447.0" x2="516.7" y2="445.0"/><line x1="516.7" y1="311.0" x2="516.7" y2="313.0"/><line x1="546.8" y1="447.0" x2="546.8" y2="445.0"/><line x1="546.8" y1="311.0" x2="546.8" y2="313.0"/><line x1="576.9" y1="447.0" x2="576.9" y2="445.0"/><line x1="576.9" y1="311.0" x2="576.9" y2="313.0"/><line x1="607.0" y1="447.0" x2="607.0" y2="445.0"/><line x1="607.0" y1="311.0" x2="607.0" y2="313.0"/><line x1="637.1" y1="447.0" x2="637.1" y2="445.0"/><line x1="637.1" y1="311.0" x2="637.1" y2="313.0"/><line x1="667.2" y1="447.0" x2="667.2" y2="445.0"/><line x1="667.2" y1="311.0" x2="667.2" y2="313.0"/><line x1="697.3" y1="447.0" x2="697.3" y2="445.0"/><line x1="697.3" y1="311.0" x2="697.3" y2="313.0"/><line x1="727.4" y1="447.0" x2="727.4" y2="445.0"/><line x1="727.4" y1="311.0" x2="727.4" y2="313.0"/><line x1="757.5" y1="447.0" x2="757.5" y2="445.0"/><line x1="757.5" y1="311.0" x2="757.5" y2="313.0"/><line x1="486.6" y1="325.9" x2="488.6" y2="325.9"/><line x1="774.2" y1="325.9" x2="772.2" y2="325.9"/><line x1="486.6" y1="356.4" x2="488.6" y2="356.4"/><line x1="774.2" y1="356.4" x2="772.2" y2="356.4"/><line x1="486.6" y1="386.9" x2="488.6" y2="386.9"/><line x1="774.2" y1="386.9" x2="772.2" y2="386.9"/><line x1="486.6" y1="417.4" x2="488.6" y2="417.4"/><line x1="774.2" y1="417.4" x2="772.2" y2="417.4"/><line x1="486.6" y1="447.0" x2="488.6" y2="447.0"/><line x1="774.2" y1="447.0" x2="772.2" y2="447.0"/></g>
  <rect x="486.6" y="311" width="287.6" height="136" fill="none" stroke="#222" stroke-width="1"/>
  <line x1="486.1" y1="311" x2="774.7" y2="311" stroke="#2a2a2a" stroke-width="1.1"/>
  <g fill="#222" font-size="8.2"><text x="485.8" y="456" text-anchor="middle" textLength="30.6">08.05.20</text><text x="546.0" y="456" text-anchor="middle" textLength="30.6">10.05.20</text><text x="606.2" y="456" text-anchor="middle" textLength="30.6">12.05.20</text><text x="666.4" y="456" text-anchor="middle" textLength="30.6">14.05.20</text><text x="726.6" y="456" text-anchor="middle" textLength="30.6">16.05.20</text><text x="482.8" y="328.5" text-anchor="end" textLength="14.3">200</text><text x="482.8" y="359.0" text-anchor="end" textLength="14.3">150</text><text x="482.8" y="389.5" text-anchor="end" textLength="14.3">100</text><text x="482.8" y="420.0" text-anchor="end" textLength="8.8">50</text><text x="482.8" y="449.6" text-anchor="end" textLength="4.6">0</text></g>
  <text x="540.2" y="306.4" font-size="14" fill="#222" textLength="181.4">WT Bischofsheim Links/Main</text>
  <text transform="translate(462.2,378.6) rotate(-90)" text-anchor="middle" font-size="10.6" fill="#222" textLength="67">Abfluss [m³/s]</text>
  <g stroke-width="1.2" fill="none">
    <line x1="493.4" y1="469.2" x2="510.9" y2="469.2" stroke="#ababab"/>
    <line x1="493.4" y1="480" x2="510.9" y2="480" stroke="#eaa4aa"/>
  </g>
  <g fill="#222" font-size="7.7">
    <text x="522.9" y="471.9" textLength="37.6">Simulation</text>
    <text x="522.9" y="482.7" textLength="45.7">Abschätzung</text>
  </g>
</svg>
</body>
</html>
